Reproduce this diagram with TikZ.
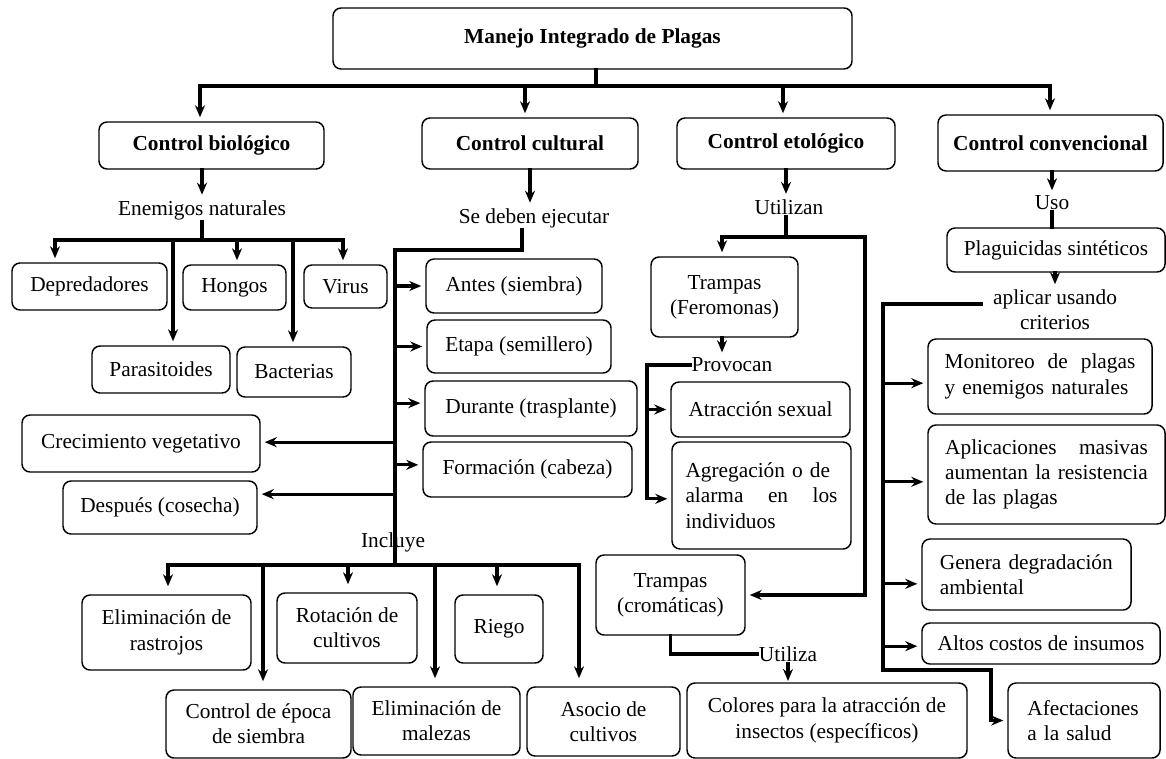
\documentclass[tikz,border=0pt]{standalone}
\usepackage{fontspec}
\setmainfont{Liberation Serif}
\usetikzlibrary{arrows.meta}

\tikzset{
  caja/.style={draw, rounded corners=6pt, line width=1.1pt, align=center, inner sep=2pt},
  tam/.style 2 args={minimum width=#1*0.75pt, minimum height=#2*0.75pt},
  rotulo/.style={inner sep=1pt},
  linea/.style={line width=2.3pt, line cap=rect},
  flecha/.style={linea, ->, shorten >=3pt},
}

\begin{document}
\begin{tikzpicture}[x=0.75pt,y=-0.75pt,>={Stealth[length=9pt,width=7.5pt]},font=\fontsize{16}{19}\selectfont]
\useasboundingbox (0,0) rectangle (1166,759);

% nivel superior
\node[caja,tam={519}{61}] (mip)  at (592.5,38.5) {\textbf{Manejo Integrado de Plagas}};
\node[caja,tam={225}{47}] (cbio) at (211.5,145.5) {\textbf{Control biológico}};
\node[caja,tam={216}{51}] (ccul) at (530,143.5)  {\textbf{Control cultural}};
\node[caja,tam={218}{51}] (ceto) at (786,143.5)  {\textbf{Control etológico}};
\node[caja,tam={225}{56}] (ccon) at (1050.5,143) {\textbf{Control convencional}};

\coordinate (h0) at (596,86);
\coordinate (hL) at (200,86);
\coordinate (hR) at (1050,86);
\draw[linea] (mip.south -| h0) -- (h0);
\draw[linea] (hL) -- (hR);
\foreach \n/\x in {cbio/200, ccul/525, ceto/783, ccon/1050}{
  \coordinate (t\n) at (\x,86);
  \draw[flecha] (t\n) -- (\n.north -| t\n);
}

% control biologico
\node[rotulo] (enem) at (202,210) {Enemigos naturales};
\draw[flecha] (cbio.south -| enem.north) -- (enem.north);
\coordinate (bL) at (55,240);
\coordinate (bR) at (343,240);
\draw[linea] (enem.south) -- (enem.south |- bL);
\draw[linea] (bL) -- (bR);

\node[caja,tam={155}{47}] (depr)  at (89.5,286.5) {Depredadores};
\node[caja,tam={103}{45}] (hong)  at (234.5,287.5) {Hongos};
\node[caja,tam={83}{43}]  (virus) at (345.5,286.5) {Virus};
\node[caja,tam={138}{47}] (paras) at (161,369.5) {Parasitoides};
\node[caja,tam={114}{50}] (bact)  at (294,372) {Bacterias};
\foreach \n/\x in {depr/55, paras/173, hong/237, bact/293, virus/343}{
  \coordinate (r\n) at (\x,240);
  \draw[flecha] (r\n) -- (\n.north -| r\n);
}

% control cultural
\node[rotulo] (sedeb) at (534,218) {Se deben ejecutar};
\draw[flecha] (ccul.south) -- (ccul.south |- sedeb.north);
\coordinate (c1) at (522,250);
\coordinate (c0) at (395,250);
\coordinate (c2) at (395,565);
\draw[linea] (sedeb.south -| c1) -- (c1) -- (c0) -- (c2);

\node[caja,tam={176}{54}] (antes)   at (514,286)     {Antes (siembra)};
\node[caja,tam={184}{53}] (etapa)   at (519,346.5)   {Etapa (semillero)};
\node[caja,tam={212}{55}] (durante) at (531,408.5)   {Durante (trasplante)};
\node[caja,tam={209}{55}] (formac)  at (527.5,469.5) {Formación (cabeza)};
\node[caja,tam={238}{57}] (crec)    at (141,443.5)   {Crecimiento vegetativo};
\node[caja,tam={194}{53}] (desp)    at (160,507.5)   {Después (cosecha)};
\foreach \n/\s in {antes/0pt, etapa/0pt, durante/4pt, formac/3.5pt}
  \draw[flecha] ([yshift=\s]\n.west -| c0) -- ([yshift=\s]\n.west);
\foreach \n/\s in {crec/1pt, desp/10pt}
  \draw[flecha] ([yshift=\s]\n.east -| c0) -- ([yshift=\s]\n.east);

\node[rotulo] (incl) at (393,542) {Incluye};
\coordinate (iL) at (168,565);
\coordinate (iR) at (579,565);
\draw[linea] (iL) -- (iR);

\node[caja,tam={169}{75}] (elimr) at (166.5,632.5) {Eliminación de\\rastrojos};
\node[caja,tam={140}{70}] (rot)   at (347,628)     {Rotación de\\cultivos};
\node[caja,tam={88}{68}]  (riego) at (499,629)     {Riego};
\node[caja,tam={185}{68}] (ctrle) at (258.5,724)   {Control de época\\de siembra};
\node[caja,tam={167}{68}] (elimm) at (436.5,721)   {Eliminación de\\malezas};
\node[caja,tam={153}{69}] (asoc)  at (603.5,721.5) {Asocio de\\cultivos};
\foreach \n/\x in {elimr/168, ctrle/263, rot/348, elimm/435, riego/497, asoc/579}{
  \coordinate (s\n) at (\x,565);
  \draw[flecha,shorten >=6pt] (s\n) -- (\n.north -| s\n);
}

% control etologico
\node[rotulo] (util) at (789,207) {Utilizan};
\draw[flecha] (ceto.south) -- (ceto.south |- util.north);
\coordinate (eL) at (722,237);
\coordinate (eR) at (865,237);
\draw[linea] (util.south -| ceto.south) -- (ceto.south |- eL);

\node[caja,tam={147}{80}]  (trampf) at (724.5,297) {Trampas\\(Feromonas)};
\node[caja,tam={179}{55}]  (atrac)  at (760.5,409.5) {Atracción sexual};
\node[caja,tam={179}{107},text width=114pt,align=left] (agreg) at (761.5,495.5)
  {Agregación o de\\alarma\hfill en\hfill los\\individuos};
\node[caja,tam={149}{80}]  (trampc) at (670.5,595) {Trampas\\(cromáticas)};
\node[caja,tam={280}{75}]  (colores) at (827,720.5) {Colores para la atracción de\\insectos (específicos)};

\draw[flecha] (eR) -- (eL) -- (trampf.north -| eL);
\draw[flecha] (eR) |- (trampc.east);

\node[rotulo] (prov) at (732,365) {Provocan};
\draw[flecha] (trampf.south -| eL) -- (prov.north -| eL);
\coordinate (pv) at (647,365);
\draw[linea] (prov.west) -| ([yshift=-2.5pt]agreg.west -| pv);
\draw[flecha] (atrac.west -| pv) -- (atrac.west);
\draw[flecha] ([yshift=-2.5pt]agreg.west -| pv) -- ([yshift=-2.5pt]agreg.west);

\node[rotulo] (utza) at (788,654) {Utiliza};
\draw[linea] (trampc.south) |- (utza.west);
\draw[flecha,shorten >=1pt] (utza.south) -- (colores.north -| utza.south);

% control convencional
\node[rotulo] (uso) at (1052,203) {Uso};
\draw[flecha] (ccon.south -| uso.north) -- (uso.north);
\node[caja,tam={218}{44}] (plag) at (1056,250) {Plaguicidas sintéticos};
\draw[linea] (uso.south) -- (plag.north -| uso.south);
\node[rotulo,align=center] (aplic) at (1055,310) {aplicar usando\\criterios};
\draw[flecha] (plag.south -| aplic.north) -- (aplic.north);

\node[caja,tam={224}{75},text width=143pt,align=left] (monit) at (1040,376.5)
  {Monitoreo\hfill de\hfill plagas\\y enemigos naturales};
\node[caja,tam={237}{99},text width=152pt,align=left] (aplicm) at (1046.5,474.5)
  {Aplicaciones\hfill masivas\\aumentan\hfill la\hfill resistencia\\de las plagas};
\node[caja,tam={209}{71},text width=130pt,align=left] (genera) at (1026.5,574.5)
  {Genera degradación\\ambiental};
\node[caja,tam={238}{41}] (altos) at (1041,643.5) {Altos costos de insumos};
\node[caja,tam={152}{75},text width=85pt,align=left] (afect) at (1084,720.5)
  {Afectaciones\\a la salud};

\coordinate (k1) at (883,670);
\coordinate (k2) at (991,670);
\draw[flecha] ([xshift=-7.5pt,yshift=4.5pt]aplic.west) -| (k1) -- (k2) |- (afect.west);
\foreach \n/\s in {monit/-5pt, aplicm/-5.5pt, genera/-7pt, altos/-2pt}
  \draw[flecha] ([yshift=\s]\n.west -| k1) -- ([yshift=\s]\n.west);

\end{tikzpicture}
\end{document}
